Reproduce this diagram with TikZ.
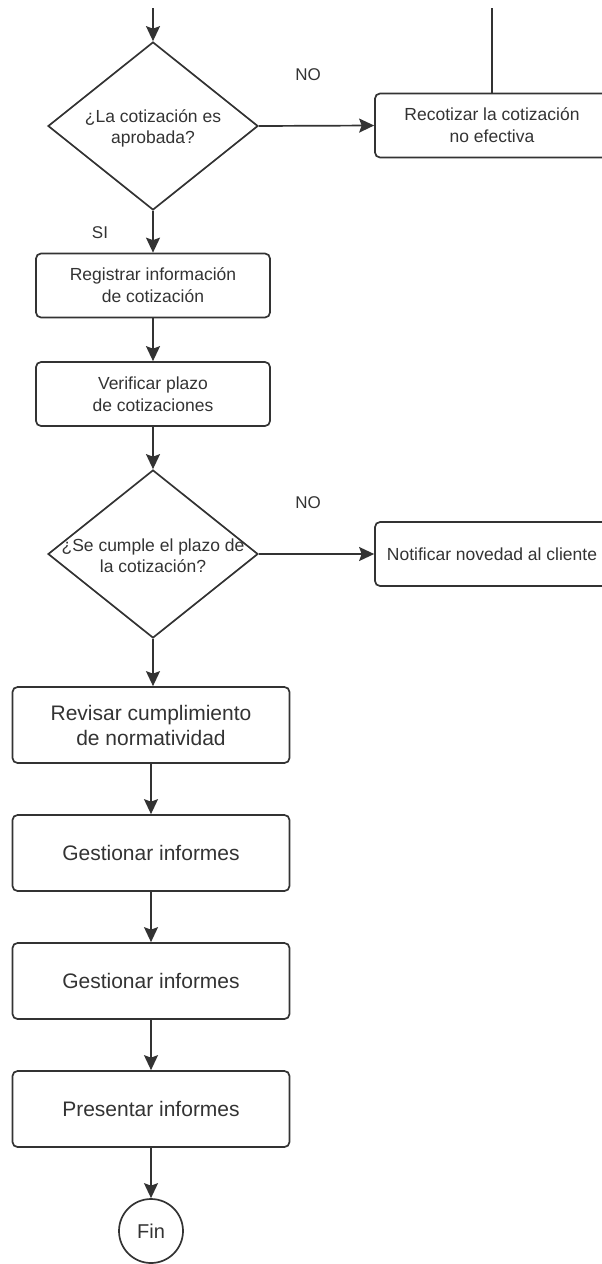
\documentclass[tikz,border=0pt]{standalone}
\usepackage{fontspec}
\setmainfont{Liberation Sans}
\usetikzlibrary{shapes.geometric,arrows.meta,positioning}
\definecolor{linegray}{HTML}{333333}
\definecolor{textgray}{HTML}{333333}

\begin{document}
\begin{tikzpicture}[x=1pt,y=-1pt,line width=1.7pt,color=linegray,text=textgray,
	proc/.style={draw,rounded corners=5pt,minimum width=234pt,minimum height=64pt,inner sep=0pt,align=center,font=\fontsize{17.5}{22}\selectfont},
	bigproc/.style={proc,minimum width=277pt,minimum height=76pt,font=\fontsize{21}{25}\selectfont},
	decision/.style={draw,diamond,minimum width=210pt,minimum height=168pt,inner sep=0pt},
	qtext/.style={align=center,font=\fontsize{17.5}{21}\selectfont},
	tag/.style={font=\fontsize{17}{20}\selectfont},
	flow/.style={-{Stealth[length=15pt,width=14pt,inset=2.5pt]}}]
		\clip (0,0) rectangle (602,1264);
		\coordinate (in) at (153,8);
		\coordinate (back) at (492,8);
		% first question
		\node[decision] (q1) at (153,126) {};
		\node[qtext] (q1txt) at (153,128) {¿La cotización es\\aprobada?};
		\node[proc] (recot) at (492,125.5) {Recotizar la cotización\\no efectiva};
		\node[tag] (no1) at (308,75) {NO};
		\node[tag] (si) at (100,233) {SI};
		\node[proc] (reg) at (153,285.5) {Registrar información\\de cotización};
		\node[proc] (verif) at (153,394) {Verificar plazo\\de cotizaciones};
		% second question
		\node[decision] (q2) at (153,554) {};
		\node[qtext] (q2txt) at (153,556) {¿Se cumple el plazo de\\la cotización?};
		\node[proc] (notif) at (492,554) {Notificar novedad al cliente};
		\node[tag] (no2) at (308,503) {NO};
		% lower column
		\node[bigproc] (rev) at (151,725) {Revisar cumplimiento\\de normatividad};
		\node[bigproc] (gest1) at (151,853) {Gestionar informes};
		\node[bigproc] (gest2) at (151,981) {Gestionar informes};
		\node[bigproc] (pres) at (151,1109) {Presentar informes};
		\node[draw,circle,minimum size=64pt,inner sep=0pt,font=\fontsize{20}{24}\selectfont] (fin) at (151,1231) {Fin};
		
		\draw[flow] (in) -- (q1.north);
		\draw[flow] (q1.east) -- (recot.west);
		\draw (recot.north) -- (back);
		\draw[flow] (q1.south) -- (reg.north);
		\draw[flow] (reg) -- (verif);
		\draw[flow] (verif) -- (q2);
		\draw[flow] (q2.east) -- (notif.west);
		\draw[flow] (q2.south) -- (q2.south |- rev.north);
		\draw[flow] (rev) -- (gest1);
		\draw[flow] (gest1) -- (gest2);
		\draw[flow] (gest2) -- (pres);
		\draw[flow] (pres) -- (fin);
		%\draw[flow] (pres.south) -- (fin.north);
\end{tikzpicture}
\end{document}
